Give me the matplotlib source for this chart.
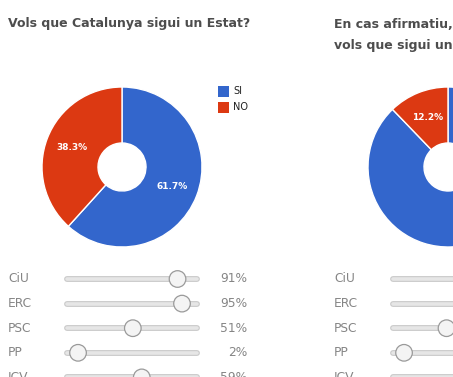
import matplotlib.pyplot as plt
from matplotlib.patches import Circle, Rectangle

W, H = 453, 377

# Dades
questions = [["Vols que Catalunya sigui un Estat?"],
             ["En cas afirmatiu,", "vols que sigui un Estat independent?"]]
answers = ["SI", "NO"]
si_pct = [61.7, 87.8]
no_pct = [38.3, 12.2]
parties = ["CiU", "ERC", "PSC", "PP", "ICV"]
support_q1 = [91, 95, 51, 2, 59]
support_q2 = [98, 99, 40, 2, 75]

blue = "#3366cc"
red = "#dc3912"
title_col = "#4d4d4d"
label_col = "#858585"

fig = plt.figure(figsize=(W / 100, H / 100), dpi=100)
ax = fig.add_axes([0, 0, 1, 1])
ax.set_xlim(0, W)
ax.set_ylim(0, H)
ax.set_aspect("equal")
ax.axis("off")


def Y(y):
    # coordenades de pantalla -> coordenades del grafic
    return H - y


# un bloc per pregunta
for k, x0 in enumerate([0, 326]):
    for n, line in enumerate(questions[k]):
        ax.text(x0 + 8, Y(24 + 21 * n), line, fontsize=9, fontweight="bold",
                color=title_col, va="center", ha="left")

    vals = [si_pct[k], no_pct[k]]
    ax.pie(vals, colors=[blue, red], center=(x0 + 122, Y(167)), radius=80,
           startangle=90, counterclock=False, autopct="%.1f%%",
           pctdistance=0.67,
           wedgeprops=dict(width=56, edgecolor="white", linewidth=1),
           textprops=dict(color="white", fontsize=6.5, fontweight="bold"))

    # sliders
    support = support_q1 if k == 0 else support_q2
    tx0 = x0 + 67
    tx1 = x0 + 197
    for i, p in enumerate(parties):
        yy = Y(279 + 24.6 * i)
        ax.text(x0 + 8, yy, p, fontsize=8.8, color=label_col,
                va="center", ha="left")
        ax.plot([tx0, tx1], [yy, yy], color="#c9c9c9", lw=4.2,
                solid_capstyle="round", zorder=2)
        ax.plot([tx0, tx1], [yy, yy], color="#e6e6e6", lw=2.6,
                solid_capstyle="round", zorder=3)
        cx = tx0 + 8.8 + 1.118 * support[i]
        ax.add_patch(Circle((cx, yy), 8.3, facecolor="#f4f4f4",
                            edgecolor="#9a9a9a", lw=0.9, zorder=4))
        ax.text(x0 + 247, yy, f"{support[i]}%", fontsize=8.8,
                color=label_col, va="center", ha="right")

# llegenda
for j, a in enumerate(answers):
    yy = Y(92 + 16 * j)
    ax.add_patch(Rectangle((218, yy - 5), 11, 11,
                           facecolor=[blue, red][j], edgecolor="none"))
    ax.text(233, yy + 0.5, a, fontsize=7, color="#222222",
            va="center", ha="left")

ax.set_xlim(0, W)
ax.set_ylim(0, H)
fig.savefig("out.png", dpi=100)
